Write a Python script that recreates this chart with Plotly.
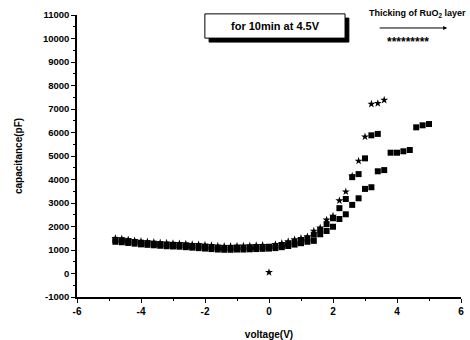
import plotly.graph_objects as go

# ---- data ----
volt_A = [-4.8, -4.6, -4.4, -4.2, -4.0, -3.8, -3.6, -3.4, -3.2, -3.0, -2.8, -2.6, -2.4, -2.2, -2.0,
          -1.8, -1.6, -1.4, -1.2, -1.0, -0.8, -0.6, -0.4, -0.2, 0.0, 0.2, 0.4, 0.6, 0.8, 1.0,
          1.2, 1.4, 1.6, 1.8, 2.0, 2.2, 2.4, 2.6, 2.8, 3.0, 3.2, 3.4, 3.6]
cap_A = [1500, 1480, 1440, 1400, 1370, 1350, 1330, 1310, 1300, 1280, 1270, 1260, 1240, 1230, 1210,
         1190, 1170, 1160, 1160, 1170, 1170, 1180, 1190, 1200, 50, 1240, 1290, 1360, 1440, 1500,
         1570, 1810, 1950, 2280, 2450, 3100, 3480, 4150, 4790, 5820, 7210, 7240, 7380]

volt_B = [-4.8, -4.6, -4.4, -4.2, -4.0, -3.8, -3.6, -3.4, -3.2, -3.0, -2.8, -2.6, -2.4, -2.2, -2.0,
          -1.8, -1.6, -1.4, -1.2, -1.0, -0.8, -0.6, -0.4, -0.2, 0.0, 0.2, 0.4, 0.6, 0.8, 1.0,
          1.2, 1.4, 1.6, 1.8, 2.0, 2.2, 2.4, 2.6, 2.8, 3.0, 3.2, 3.4]
cap_B = [1430, 1410, 1370, 1340, 1310, 1290, 1270, 1250, 1230, 1220, 1210, 1190, 1170, 1160, 1140,
         1120, 1100, 1090, 1090, 1100, 1100, 1110, 1120, 1130, 1140, 1160, 1200, 1260, 1330, 1400,
         1480, 1650, 1850, 2100, 2350, 2780, 3170, 4100, 4230, 4900, 5880, 5940]

volt_C = [-4.8, -4.6, -4.4, -4.2, -4.0, -3.8, -3.6, -3.4, -3.2, -3.0, -2.8, -2.6, -2.4, -2.2, -2.0,
          -1.8, -1.6, -1.4, -1.2, -1.0, -0.8, -0.6, -0.4, -0.2, 0.0, 0.2, 0.4, 0.6, 0.8, 1.0,
          1.2, 1.4, 1.6, 1.8, 2.0, 2.2, 2.4, 2.6, 2.8, 3.0, 3.2, 3.4, 3.6, 3.8, 4.0, 4.2, 4.4,
          4.6, 4.8, 5.0]
cap_C = [1350, 1330, 1300, 1270, 1240, 1220, 1200, 1180, 1160, 1150, 1140, 1120, 1100, 1080, 1060,
         1040, 1020, 1010, 1010, 1020, 1020, 1030, 1040, 1050, 1060, 1080, 1120, 1170, 1230, 1290,
         1350, 1390, 1670, 1810, 1990, 2320, 2520, 2920, 3200, 3600, 3670, 4350, 4400, 5140, 5140,
         5200, 5255, 6220, 6306, 6360]

x_ticks = [-6, -4, -2, 0, 2, 4, 6]
y_ticks = [-1000, 0, 1000, 2000, 3000, 4000, 5000, 6000, 7000, 8000, 9000, 10000, 11000]

FONT = "Liberation Sans"

fig = go.Figure()
fig.add_trace(go.Scatter(x=volt_C, y=cap_C, mode="markers",
                         marker=dict(symbol="square", size=6, color="black"), showlegend=False))
fig.add_trace(go.Scatter(x=volt_B, y=cap_B, mode="markers",
                         marker=dict(symbol="square", size=6, color="black"), showlegend=False))
fig.add_trace(go.Scatter(x=volt_A, y=cap_A, mode="markers",
                         marker=dict(symbol="star", size=6, color="black"), showlegend=False))

# boxed label with shadow
fig.add_shape(type="rect", xref="paper", yref="paper", x0=0.344, x1=0.708, y0=0.904, y1=0.989,
              fillcolor="black", line=dict(color="black", width=1), layer="above")
fig.add_shape(type="rect", xref="paper", yref="paper", x0=0.333, x1=0.698, y0=0.918, y1=1.004,
              fillcolor="white", line=dict(color="black", width=1), layer="above")
fig.add_annotation(xref="paper", yref="paper", x=0.516, y=0.961, text="for 10min at 4.5V",
                   showarrow=False, xanchor="center", yanchor="middle",
                   font=dict(family=FONT, size=11, color="black", weight="bold"))

fig.add_annotation(xref="paper", yref="paper", x=0.888, y=1.005, text="Thicking of RuO<sub>2</sub> layer",
                   showarrow=False, xanchor="center", yanchor="middle",
                   font=dict(family=FONT, size=9, color="black", weight="bold"))
fig.add_annotation(xref="paper", yref="paper",
                   x=0.964, y=0.954, ax=-69, ay=0, text="", showarrow=True,
                   arrowhead=2, arrowsize=0.8, arrowwidth=1, arrowcolor="black")
fig.add_annotation(xref="paper", yref="paper", x=0.862, y=0.905, text="*********",
                   showarrow=False, xanchor="center", yanchor="middle",
                   font=dict(family=FONT, size=12, color="black", weight="bold"))

fig.update_layout(
    width=470, height=340,
    margin=dict(l=77, r=9, t=15, b=43, autoexpand=False),
    paper_bgcolor="white", plot_bgcolor="white",
    font=dict(family=FONT, size=9, color="black"),
    xaxis=dict(range=[-6, 6], tickvals=x_ticks, ticktext=[str(v) for v in x_ticks],
               ticks="outside", ticklen=4, tickwidth=1, tickcolor="black",
               minor=dict(dtick=1, ticks="outside", ticklen=2, tickcolor="black"),
               showline=True, linecolor="black", linewidth=1.5, showgrid=False, zeroline=False,
               tickfont=dict(family=FONT, size=10, weight="bold"),
               title=dict(text="voltage(V)", standoff=15,
                          font=dict(family=FONT, size=10, weight="bold"))),
    yaxis=dict(range=[-1000, 11000], tickvals=y_ticks, ticktext=[str(v) for v in y_ticks],
               ticks="outside", ticklen=4, tickwidth=1, tickcolor="black",
               minor=dict(dtick=500, ticks="outside", ticklen=2, tickcolor="black"),
               showline=True, linecolor="black", linewidth=1.5, showgrid=False, zeroline=False,
               tickfont=dict(family=FONT, size=9.5, weight="bold"),
               title=dict(text="capacitance(pF)", standoff=18,
                          font=dict(family=FONT, size=10, weight="bold"))),
)

fig.write_html("out.html", config={"displayModeBar": False},
               post_script="document.body.style.margin='0';document.body.style.padding='0';")
